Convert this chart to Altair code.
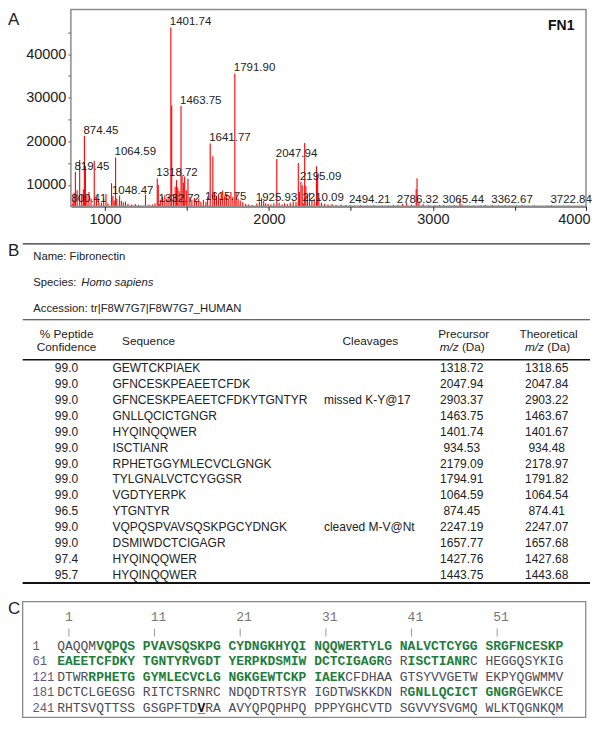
import altair as alt
import pandas as pd

SANS = "Liberation Sans, Arial, sans-serif"
MONO = "Liberation Mono, Courier New, monospace"

# ---------------- Panel A : MS spectrum ----------------
LAB_MZ = [800.41, 819.45, 874.45, 1048.47, 1064.59, 1318.72, 1332.72, 1401.74, 1463.75,
          1615.75, 1641.77, 1791.90, 1925.93, 2047.94, 2195.09, 2210.09, 2494.21,
          2786.32, 3065.44, 3362.67, 3722.84]
LAB_INT = [5600, 13000, 21260, 7440, 16300, 11490, 5600, 46100, 28130,
           6130, 19520, 35560, 5760, 15920, 10720, 5760, 5375,
           5375, 5375, 5375, 5350]

PEAK_MZ = [806, 812, 830, 845.5, 858, 868, 880.5, 890, 902, 915, 934.53, 948, 962, 978, 992,
           1006, 1018, 1040, 1056, 1072, 1089, 1100, 1112, 1125, 1140, 1162, 1185, 1205,
           1247, 1268, 1290, 1305, 1325, 1340, 1352, 1365, 1378, 1390, 1407, 1418, 1427.76,
           1436, 1443.75, 1452, 1470, 1478, 1486, 1496, 1506, 1518, 1530, 1545, 1558, 1572,
           1585, 1600, 1626, 1657.77, 1668, 1680, 1692, 1705, 1718, 1730, 1742, 1755, 1768,
           1780, 1800, 1812, 1825, 1840, 1858, 1875, 1898, 1942, 1955, 1968, 1980, 1995,
           2012, 2030, 2062, 2080, 2095, 2112, 2130, 2148, 2165, 2179.09, 2186, 2203, 2218,
           2225, 2235, 2247.19, 2262, 2276, 2290, 2297, 2305, 2320, 2340, 2360, 2385, 2410,
           2440, 2470, 2520, 2560, 2600, 2640, 2690, 2730, 2760, 2815, 2840, 2870, 2898,
           2903.37, 2915, 2940, 2975, 3010, 3040, 3100, 3130, 3165, 3178, 3210, 3250, 3290,
           3320, 3400, 3440, 3470, 3510, 3545, 3580, 3620, 3700]
PEAK_INT = [6400, 8200, 8800, 15700, 7800, 9000, 14400, 7600, 8400, 6900, 15550, 7200, 6400, 5900, 6800,
            7900, 5800, 10400, 6400, 6900, 7550, 6300, 6000, 6200, 5700, 5500, 5600, 5400,
            7750, 5500, 5500, 5800, 10050, 6600, 7200, 7600, 6900, 7400, 28200, 7800, 9600,
            11100, 9400, 8600, 12200, 10500, 11900, 8800, 11400, 7200, 6600, 7000, 6300, 6800,
            6100, 6600, 7300, 16560, 8400, 7300, 7900, 6800, 8700, 7400, 7900, 6600, 8400,
            7200, 8200, 6800, 6400, 6000, 5700, 5500, 5400, 6200, 7000, 6300, 5800, 5600,
            5500, 5800, 5900, 5500, 5800, 5600, 5900, 6200, 6100, 15020, 8400, 9900, 19630,
            9800, 7600, 8200, 6400, 6800, 14270, 12400, 7000, 5900, 5700, 5500, 5600, 5400,
            5500, 5400, 5300, 5400, 5300, 5400, 5300, 5300, 5400, 5600, 5900, 5500, 9060,
            11520, 6200, 5600, 5400, 5300, 5400, 5300, 5400, 6930, 5500, 5300, 5300, 5300,
            5400, 5300, 5400, 5300, 5300, 5400, 5300, 5300, 5250]

X_DOMAIN = [792, 3934]
Y_DOMAIN = [5100, 50200]
X_TICKS = [1000, 1500, 2000, 2500, 3000, 3500, 3934]
Y_TICKS = [10000, 15000, 20000, 25000, 30000, 35000, 40000, 45000]

# ---------------- Panel B : table ----------------
META_NAME = "Name: Fibronectin"
META_SPECIES = "Species: "
META_SPECIES_IT = "Homo sapiens"
META_ACC = "Accession: tr|F8W7G7|F8W7G7_HUMAN"

CONF = ["99.0", "99.0", "99.0", "99.0", "99.0", "99.0", "99.0", "99.0", "99.0",
        "96.5", "99.0", "99.0", "97.4", "95.7"]
SEQS = ["GEWTCKPIAEK", "GFNCESKPEAEETCFDK", "GFNCESKPEAEETCFDKYTGNTYR", "GNLLQCICTGNGR",
        "HYQINQQWER", "ISCTIANR", "RPHETGGYMLECVCLGNGK", "TYLGNALVCTCYGGSR", "VGDTYERPK",
        "YTGNTYR", "VQPQSPVAVSQSKPGCYDNGK", "DSMIWDCTCIGAGR", "HYQINQQWER", "HYQINQQWER"]
CLEAV = ["", "", "missed K-Y@17", "", "", "", "", "", "", "", "cleaved M-V@Nt", "", "", ""]
PREC = ["1318.72", "2047.94", "2903.37", "1463.75", "1401.74", "934.53", "2179.09", "1794.91",
        "1064.59", "874.45", "2247.19", "1657.77", "1427.76", "1443.75"]
THEO = ["1318.65", "2047.84", "2903.22", "1463.67", "1401.67", "934.48", "2178.97", "1791.82",
        "1064.54", "874.41", "2247.07", "1657.68", "1427.68", "1443.68"]

# ---------------- Panel C : sequence coverage ----------------
SEQ_ROWS = ["QAQQMVQPQSPVAVSQSKPGCYDNGKHYQINQQWERTYLGNALVCTCYGGSRGFNCESKP",
            "EAEETCFDKYTGNTYRVGDTYERPKDSMIWDCTCIGAGRGRISCTIANRCHEGGQSYKIG",
            "DTWRRPHETGGYMLECVCLGNGKGEWTCKPIAEKCFDHAAGTSYVVGETWEKPYQGWMMV",
            "DCTCLGEGSGRITCTSRNRCNDQDTRTSYRIGDTWSKKDNRGNLLQCICTGNGRGEWKCE",
            "RHTSVQTTSSGSGPFTDVRAAVYQPQPHPQPPPYGHCVTDSGVVYSVGMQWLKTQGNKQM"]
ROW_START = [1, 61, 121, 181, 241]
RULER = ["1", "11", "21", "31", "41", "51"]
GREEN = [(6, 99), (102, 109), (125, 154), (222, 234)]
BOLD_SITE = 258

# ================= build Panel A =================
XS = alt.Scale(domain=X_DOMAIN, nice=False, zero=False)
YS = alt.Scale(domain=Y_DOMAIN, nice=False, zero=False)
xaxis = alt.Axis(values=X_TICKS, format="d", title=None, grid=False,
                 labelExpr="datum.value > 3900 ? '4000' : (datum.value % 1000 == 0 ? datum.label : '')",
                 domainColor="#222", domainWidth=1.5, tickColor="#222", tickSize=4,
                 labelFont=SANS, labelFontSize=14.5, labelColor="#222", labelPadding=2,
                 labelFlush=2, labelFlushOffset=4, labelOverlap=False)
yaxis = alt.Axis(values=Y_TICKS, format="d", title=None, grid=False, domain=False,
                 labelExpr="datum.value % 10000 == 0 ? datum.label : ''",
                 tickColor="#555", tickSize=3, labelPadding=2,
                 labelFont=SANS, labelFontSize=14.5, labelColor="#222", labelOverlap=False)

peaks_df = pd.DataFrame({"mz": PEAK_MZ + LAB_MZ, "inten": PEAK_INT + LAB_INT})
lab_df = pd.DataFrame({"mz": LAB_MZ, "inten": LAB_INT, "txt": [f"{m:.2f}" for m in LAB_MZ]})

WA, HA = 516, 197
bars = alt.Chart(peaks_df).mark_rule(color="#ff0000", strokeWidth=1.1).encode(
    x=alt.X("mz:Q", scale=XS, axis=xaxis),
    y=alt.Y("inten:Q", scale=YS, axis=yaxis),
    y2=alt.datum(Y_DOMAIN[0]))
labels = alt.Chart(lab_df).mark_text(align="left", baseline="alphabetic", dx=-1, dy=-2,
                                     font=SANS, fontSize=11.5, color="#222").encode(
    x=alt.X("mz:Q", scale=XS, axis=xaxis),
    y=alt.Y("inten:Q", scale=YS, axis=yaxis),
    text="txt:N")
one = pd.DataFrame({"k": [0]})
frameA = alt.Chart(one).mark_rect(fillOpacity=0, stroke="#8c8c8c", strokeWidth=1.5).encode(
    x=alt.value(0), x2=alt.value(WA), y=alt.value(0), y2=alt.value(HA))


def stext(txt, x, y, align="left", size=12, style="normal", weight="normal", color="#222", font=SANS):
    return alt.Chart(pd.DataFrame({"t": [txt]})).mark_text(
        align=align, baseline="middle", font=font, fontSize=size, fontStyle=style,
        fontWeight=weight, color=color).encode(x=alt.value(x), y=alt.value(y), text="t:N")


def srule(x1, x2, y, w, color="#222"):
    return alt.Chart(one).mark_rule(color=color, strokeWidth=w).encode(
        x=alt.value(x1), x2=alt.value(x2), y=alt.value(y))


panelA = alt.layer(
    bars, labels, frameA,
    stext("FN1", 478, 16, size=14, weight="bold", color="#111"),
    stext("A", -63, 10.5, size=17, color="#222"),
).properties(width=WA, height=HA)

# ================= build Panel B =================
HB = 396
rows_df = pd.DataFrame({"r": list(range(len(CONF))), "conf": CONF, "seq": SEQS,
                        "cleav": CLEAV, "prec": PREC, "theo": THEO})
RY = alt.Scale(domain=[0, len(CONF) - 1], range=[162.3, 369])


def col(field, x, align):
    return alt.Chart(rows_df).mark_text(align=align, baseline="middle", font=SANS,
                                        fontSize=12, color="#222").encode(
        x=alt.value(x), y=alt.Y("r:Q", scale=RY, axis=None), text=f"{field}:N")


HS = 11.8


def mz_header(center, y):
    split = center - 0.3055 * HS
    return [stext("m/z", split, y, align="right", size=HS, style="italic"),
            stext("(Da)", split + 0.278 * HS, y, align="left", size=HS)]


panelB = alt.layer(
    stext("B", -63, 44.7, size=17),
    srule(-48.3, 520, 37.7, 1.2, "#333"),
    stext(META_NAME, -37.7, 51.3, size=11.3),
    stext(META_SPECIES, -37.7, 77.3, size=11.3),
    stext(META_SPECIES_IT, 10.5, 77.3, size=11.3, style="italic"),
    stext(META_ACC, -37.7, 103, size=11.3),
    srule(-48.3, 520, 113.7, 1.2, "#333"),
    stext("% Peptide", -4.3, 128, align="center", size=HS),
    stext("Confidence", -4.3, 141.3, align="center", size=HS),
    stext("Sequence", 51.3, 134.7, size=HS),
    stext("Cleavages", 300, 134.7, align="center", size=HS),
    stext("Precursor", 393.5, 128, align="center", size=HS),
    *mz_header(392, 141.3),
    stext("Theoretical", 478.5, 128, align="center", size=HS),
    *mz_header(477.5, 141.3),
    srule(-48.3, 520, 153.7, 1.5, "#111"),
    col("conf", -4.4, "center"),
    col("seq", 41.7, "left"),
    col("cleav", 253.5, "left"),
    col("prec", 391.5, "center"),
    col("theo", 476.6, "center"),
    srule(-48.3, 520, 377.3, 2, "#111"),
).properties(width=WA, height=HB)

# ================= build Panel C =================
HC = 116
CW = 7.8        # monospace cell width at 13px
CX0 = -13.7     # left edge of first residue cell


def style_of(pos):
    if pos == BOLD_SITE:
        return "b"
    for a, b in GREEN:
        if a <= pos <= b:
            return "g"
    return "n"


segs = []
for r, row in enumerate(SEQ_ROWS):
    for blk in range(6):
        block = row[blk * 10:(blk + 1) * 10]
        cur, start, txt = None, 0, ""
        for j, ch in enumerate(block):
            s = style_of(ROW_START[r] + blk * 10 + j)
            if s != cur:
                if txt:
                    segs.append({"crow": r, "ci": blk * 11 + start, "txt": txt, "sty": cur})
                cur, start, txt = s, j, ch
            else:
                txt += ch
        segs.append({"crow": r, "ci": blk * 11 + start, "txt": txt, "sty": cur})
seg_df = pd.DataFrame(segs)

CXS = alt.Scale(domain=[0, 65], range=[CX0, CX0 + 65 * CW])
CYS = alt.Scale(domain=[0, 4], range=[44, 106.4])
STY = {"n": ("normal", "#4a4a58"), "g": ("bold", "#1e7d3c"), "b": ("bold", "#111111")}


def seg_layer(code):
    w, c = STY[code]
    return alt.Chart(seg_df[seg_df.sty == code]).mark_text(
        align="left", baseline="middle", font=MONO, fontSize=13, fontWeight=w, color=c).encode(
        x=alt.X("ci:Q", scale=CXS, axis=None), y=alt.Y("crow:Q", scale=CYS, axis=None), text="txt:N")


ruler_df = pd.DataFrame({"ci": [11 * k + 1 for k in range(6)], "lab": RULER})
ruler_df["cc"] = ruler_df["ci"] + 0.5
ruler_num = alt.Chart(ruler_df).mark_text(align="left", baseline="middle", font=MONO, fontSize=13,
                                          color="#777777").encode(
    x=alt.X("ci:Q", scale=CXS, axis=None), y=alt.value(15), text="lab:N")
ruler_bar = alt.Chart(ruler_df).mark_rule(color="#999999", strokeWidth=1).encode(
    x=alt.X("cc:Q", scale=CXS, axis=None), y=alt.value(27), y2=alt.value(35))
rownum_df = pd.DataFrame({"crow": list(range(5)), "lab": [str(s) for s in ROW_START]})
rownums = alt.Chart(rownum_df).mark_text(align="left", baseline="middle", font=MONO, fontSize=12.2,
                                         color="#625a7a").encode(
    x=alt.value(-38.5), y=alt.Y("crow:Q", scale=CYS, axis=None), text="lab:N")
ul_pos = BOLD_SITE - ROW_START[4]
ul_df = pd.DataFrame({"crow": [4], "ci": [(ul_pos // 10) * 11 + ul_pos % 10], "t": ["_"]})
underline = alt.Chart(ul_df).mark_text(align="left", baseline="middle", font=MONO, fontSize=13,
                                       fontWeight="bold", color="#111111").encode(
    x=alt.X("ci:Q", scale=CXS, axis=None), y=alt.Y("crow:Q", scale=CYS, axis=None), text="t:N")
frameC = alt.Chart(one).mark_rect(fillOpacity=0, stroke="#8a8a8a", strokeWidth=1.3).encode(
    x=alt.value(-48.3), x2=alt.value(515.7), y=alt.value(0), y2=alt.value(HC))

panelC = alt.layer(
    frameC,
    stext("C", -63, 7.4, size=17),
    ruler_num, ruler_bar, rownums,
    seg_layer("n"), seg_layer("g"), seg_layer("b"), underline,
).properties(width=WA, height=HC)

chart = alt.vconcat(panelA, panelB, panelC, spacing=0, bounds="flush").resolve_scale(
    x="independent", y="independent").properties(padding=0).configure_view(strokeWidth=0)

chart.save("out.html", embed_options={"renderer": "svg", "actions": False})
